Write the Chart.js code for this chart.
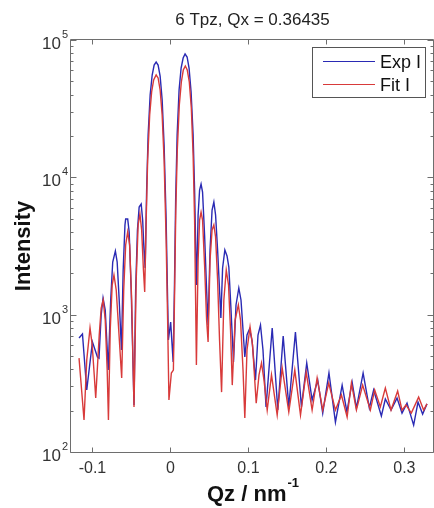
<!DOCTYPE html>
<html>
<head>
<meta charset="utf-8">
<script src="https://cdn.jsdelivr.net/npm/chart.js@4/dist/chart.umd.min.js"></script>
<style>
html,body{margin:0;padding:0;background:#fff;}
canvas{display:block;}
</style>
</head>
<body>
<canvas id="c" width="434" height="508"></canvas>
<script>
// ---------- data ----------
const chartTitle = '6 Tpz, Qx = 0.36435';
const seriesNames = ['Exp I', 'Fit I'];
const xTickValues = [-0.1, 0, 0.1, 0.2, 0.3];
const yDecades = [2, 3, 4, 5];

const expQz = [
  -0.1172,-0.1128,-0.1073,-0.1000,-0.0936,-0.0916,-0.0888,-0.0864,-0.0836,-0.0813,
  -0.0798,-0.0766,-0.0740,-0.0706,-0.0683,-0.0657,-0.0628,-0.0606,-0.0583,-0.0574,
  -0.0548,-0.0529,-0.0503,-0.0467,-0.0446,-0.0423,-0.0401,-0.0375,-0.0356,-0.0339,
  -0.0324,-0.0305,-0.0286,-0.0260,-0.0234,-0.0209,-0.0183,-0.0158,-0.0132,-0.0106,
  -0.0081,-0.0055,-0.0036,-0.0026, 0.0003, 0.0035, 0.0051, 0.0067, 0.0086, 0.0111,
   0.0137, 0.0163, 0.0188, 0.0214, 0.0239, 0.0265, 0.0291, 0.0310, 0.0325, 0.0336,
   0.0355, 0.0374, 0.0393, 0.0412, 0.0438, 0.0464, 0.0483, 0.0508, 0.0534, 0.0557,
   0.0579, 0.0605, 0.0630, 0.0647, 0.0669, 0.0698, 0.0726, 0.0749, 0.0777, 0.0809,
   0.0841, 0.0877, 0.0905, 0.0931, 0.0954, 0.0982, 0.1014, 0.1046, 0.1091, 0.1123,
   0.1155, 0.1187, 0.1226, 0.1305, 0.1377, 0.1446, 0.1518, 0.1603, 0.1680, 0.1748,
   0.1817, 0.1889, 0.1953, 0.2033, 0.2116, 0.2202, 0.2263, 0.2330, 0.2385, 0.2471,
   0.2551, 0.2606, 0.2705, 0.2756, 0.2829, 0.2906, 0.2970, 0.3034, 0.3119, 0.3175,
   0.3234, 0.3290
];
const expI = [
  676, 723, 283, 632, 492, 483, 994, 1322, 1081, 601,
  395, 1279, 2418, 2907, 2418, 1279, 553, 2115, 4497, 4973,
  4973, 3999, 1512, 220, 1512, 4135, 6080, 6394, 4890, 2957,
  2186, 8085, 20340, 39770, 55600, 65760, 69150, 65760, 54680, 36570,
  17190, 4890, 1279, 654, 884, 452, 1512, 6838, 20340, 43240,
  62530, 73960, 79090, 75210, 62530, 41820, 20340, 8085, 2957, 1644,
  5318, 8085, 8940, 7820, 3803, 1512, 841, 2957, 5782, 6613,
  5318, 2957, 1512, 946, 2186, 2957, 2674, 2223, 1081, 452,
  1176, 1564, 1279, 773, 492, 711, 786, 654, 334, 711,
  841, 553, 213, 800, 202, 700, 213, 748, 213, 445,
  239, 334, 192, 376, 165, 307, 196, 323, 209, 376,
  209, 283, 183, 243, 202, 247, 192, 227, 157, 231,
  189, 224
];

const fitQz = [
  -0.1172,-0.1108,-0.1073,-0.1031,-0.1003,-0.0977,-0.0958,-0.0913,-0.0888,-0.0862,
  -0.0836,-0.0811,-0.0795,-0.0772,-0.0747,-0.0724,-0.0695,-0.0663,-0.0625,-0.0599,
  -0.0574,-0.0548,-0.0523,-0.0497,-0.0467,-0.0439,-0.0414,-0.0391,-0.0369,-0.0346,
  -0.0330,-0.0311,-0.0292,-0.0266,-0.0241,-0.0215,-0.0183,-0.0158,-0.0132,-0.0106,
  -0.0081,-0.0055,-0.0036,-0.0019, 0.0012, 0.0038, 0.0054, 0.0069, 0.0088, 0.0114,
   0.0140, 0.0165, 0.0191, 0.0216, 0.0242, 0.0268, 0.0291, 0.0310, 0.0323, 0.0333,
   0.0355, 0.0374, 0.0393, 0.0412, 0.0438, 0.0464, 0.0483, 0.0508, 0.0534, 0.0557,
   0.0579, 0.0605, 0.0630, 0.0656, 0.0685, 0.0716, 0.0745, 0.0771, 0.0793, 0.0829,
   0.0871, 0.0899, 0.0931, 0.0954, 0.0982, 0.1021, 0.1053, 0.1100, 0.1136, 0.1168,
   0.1200, 0.1241, 0.1296, 0.1369, 0.1433, 0.1518, 0.1595, 0.1668, 0.1741, 0.1817,
   0.1881, 0.1953, 0.2030, 0.2116, 0.2193, 0.2266, 0.2321, 0.2385, 0.2465, 0.2564,
   0.2619, 0.2692, 0.2756, 0.2829, 0.2914, 0.2970, 0.3021, 0.3089, 0.3183, 0.3247,
   0.3290
];
const fitI = [
  483, 171, 468, 800, 601, 364, 247, 711, 1118, 1279,
  914, 395, 171, 773, 1644, 1945, 1512, 773, 346, 1512,
  3215, 3999, 3215, 1279, 213, 1788, 4497, 5408, 4135, 2115,
  1462, 4890, 13370, 28440, 41820, 51150, 55600, 52900, 43240, 28440,
  13370, 3496, 914, 239, 376, 395, 1512, 5782, 15810, 33630,
  49450, 60450, 64670, 60450, 49450, 31970, 14540, 4890, 1279, 430,
  2500, 4890, 5590, 4890, 2299, 914, 632, 2500, 4135, 4497,
  3678, 1788, 654, 273, 1279, 2115, 1644, 773, 307, 914,
  1176, 914, 395, 177, 553, 813, 601, 227, 364, 445,
  334, 202, 364, 186, 409, 196, 395, 186, 382, 202,
  346, 202, 318, 202, 260, 180, 318, 202, 307, 202,
  283, 213, 292, 202, 278, 202, 220, 192, 251, 202,
  224
];

// ---------- styling ----------
const FONT = "'Liberation Sans', Arial, Helvetica, sans-serif";
const BLUE = '#2a2ab4';
const RED = '#d83a3a';
const AXIS = '#6e6e6e';

function pts(xs, ys) { return xs.map((x, i) => ({ x: x, y: ys[i] })); }

const matlabPlugin = {
  id: 'matlabAxes',
  afterDatasetsDraw(chart) {
    const ctx = chart.ctx;
    const a = chart.chartArea;
    const xs = chart.scales.x, ys = chart.scales.y;
    const L = Math.round(a.left) - 0.5, R = Math.round(a.right) - 0.5;
    const T = Math.round(a.top) - 0.5, B = Math.round(a.bottom) + 0.5;
    ctx.save();
    // box
    ctx.strokeStyle = AXIS;
    ctx.lineWidth = 1;
    ctx.beginPath();
    ctx.rect(L, T, R - L, B - T);
    ctx.stroke();
    // x ticks (inward, bottom and top)
    ctx.beginPath();
    xTickValues.forEach(v => {
      const px = Math.round(xs.getPixelForValue(v)) + 0.5;
      ctx.moveTo(px, B); ctx.lineTo(px, B - 5);
      ctx.moveTo(px, T); ctx.lineTo(px, T + 5);
    });
    // y ticks (log major + minor, left and right)
    const top = yDecades[yDecades.length - 1];
    for (let d = yDecades[0]; d <= top; d++) {
      for (let m = 1; m <= 9; m++) {
        const val = m * Math.pow(10, d);
        if (val > Math.pow(10, top)) break;
        const py = Math.round(ys.getPixelForValue(val)) + 0.5;
        const len = (m === 1) ? 6 : 3;
        ctx.moveTo(L, py); ctx.lineTo(L + len, py);
        ctx.moveTo(R, py); ctx.lineTo(R - len, py);
      }
    }
    ctx.stroke();

    // y tick labels 10^n
    ctx.fillStyle = '#333';
    yDecades.forEach(e => {
      const py = ys.getPixelForValue(Math.pow(10, e));
      ctx.font = '17px ' + FONT;
      ctx.textAlign = 'right';
      ctx.textBaseline = 'alphabetic';
      ctx.fillText('10', 61, py + 9);
      ctx.font = '11px ' + FONT;
      ctx.textAlign = 'left';
      ctx.fillText(String(e), 62, py - 2);
    });

    // title
    const cx = (a.left + a.right) / 2;
    ctx.fillStyle = '#222';
    ctx.font = '17px ' + FONT;
    ctx.textAlign = 'center';
    ctx.textBaseline = 'alphabetic';
    ctx.fillText(chartTitle, cx, 25);

    // x axis title with superscript
    ctx.fillStyle = '#111';
    ctx.font = 'bold 22px ' + FONT;
    const main = 'Qz / nm';
    const w1 = ctx.measureText(main).width;
    ctx.font = 'bold 13px ' + FONT;
    const sup = '-1';
    const w2 = ctx.measureText(sup).width;
    const sx = cx - (w1 + w2) / 2;
    ctx.textAlign = 'left';
    ctx.font = 'bold 22px ' + FONT;
    ctx.fillText(main, sx, 501);
    ctx.font = 'bold 13px ' + FONT;
    ctx.fillText(sup, sx + w1 + 1, 487);

    // y axis title
    ctx.save();
    ctx.translate(30, (a.top + a.bottom) / 2);
    ctx.rotate(-Math.PI / 2);
    ctx.font = 'bold 22px ' + FONT;
    ctx.textAlign = 'center';
    ctx.textBaseline = 'alphabetic';
    ctx.fillText('Intensity', 0, 0);
    ctx.restore();

    // legend box
    const lx = 312.5, ly = 47.5, lw = 113, lh = 50;
    ctx.fillStyle = '#fff';
    ctx.fillRect(lx, ly, lw, lh);
    ctx.strokeStyle = '#555';
    ctx.strokeRect(lx, ly, lw, lh);
    const rowsY = [61, 84];
    const cols = [BLUE, RED];
    ctx.font = '18px ' + FONT;
    ctx.textAlign = 'left';
    ctx.fillStyle = '#111';
    seriesNames.forEach((n, i) => {
      ctx.strokeStyle = cols[i];
      ctx.lineWidth = 1;
      ctx.beginPath();
      ctx.moveTo(323, rowsY[i] + 0.5); ctx.lineTo(375, rowsY[i] + 0.5);
      ctx.stroke();
      ctx.fillText(n, 380, rowsY[i] + 7);
    });
    ctx.restore();
  }
};

new Chart(document.getElementById('c'), {
  type: 'scatter',
  data: {
    datasets: [
      { label: seriesNames[0], data: pts(expQz, expI), showLine: true, borderColor: BLUE,
        backgroundColor: BLUE, borderWidth: 1.4, pointRadius: 0, tension: 0, order: 1 },
      { label: seriesNames[1], data: pts(fitQz, fitI), showLine: true, borderColor: RED,
        backgroundColor: RED, borderWidth: 1.4, pointRadius: 0, tension: 0, order: 0 }
    ]
  },
  options: {
    responsive: false,
    animation: false,
    devicePixelRatio: 1,
    layout: { padding: { top: 40, right: 0, left: 0, bottom: 0 } },
    plugins: { legend: { display: false }, title: { display: false }, tooltip: { enabled: false } },
    scales: {
      x: {
        type: 'linear', position: 'bottom', min: -0.1275, max: 0.338,
        grid: { display: false, drawTicks: false },
        border: { display: false },
        afterBuildTicks: s => { s.ticks = xTickValues.map(v => ({ value: v })); },
        afterFit: s => { s.height = 56; },
        ticks: {
          maxRotation: 0, autoSkip: false, padding: 7, color: '#333',
          font: { family: FONT, size: 16 },
          callback: v => (Math.abs(v) < 1e-9 ? '0' : Number(v).toFixed(1))
        }
      },
      y: {
        type: 'logarithmic', position: 'left', min: 100, max: 100000,
        grid: { display: false, drawTicks: false },
        border: { display: false },
        afterBuildTicks: s => { s.ticks = yDecades.map(e => ({ value: Math.pow(10, e) })); },
        afterFit: s => { s.width = 71; },
        ticks: { display: false }
      }
    }
  },
  plugins: [matlabPlugin]
});
</script>
</body>
</html>
